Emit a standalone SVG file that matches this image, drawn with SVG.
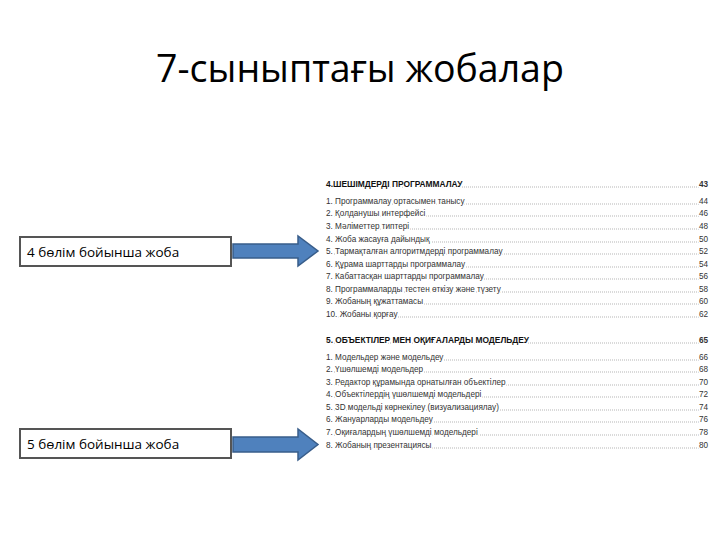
<svg xmlns="http://www.w3.org/2000/svg" width="720" height="540" viewBox="0 0 720 540">
<style>
.t{font-family:"Open Sans","Liberation Sans",sans-serif;fill:#000}
.toc,.h,.n{font-family:"Liberation Sans",sans-serif;font-size:8.2px;fill:#333;stroke:#fff;stroke-width:3;paint-order:stroke;stroke-linejoin:round}
.h{font-size:8.4px;font-weight:bold;fill:#111}
.n{text-anchor:end}
.d{stroke:#666;stroke-width:0.7;stroke-dasharray:0.7 1.3}
.box{fill:#fff;stroke:#555;stroke-width:2}
.arr{fill:#4f81bd;stroke:#385d8a;stroke-width:1.5}
</style>
<rect width="720" height="540" fill="#fff"/>
<text class="t" x="360" y="82" font-size="37.5" text-anchor="middle">7-сыныптағы жобалар</text>
<g id="box4"><rect class="box" x="20" y="237" width="211" height="29"/><text class="t" x="27" y="257" font-size="13.5">4 бөлім бойынша жоба</text></g>
<g id="box5"><rect class="box" x="20" y="429" width="211" height="29"/><text class="t" x="27" y="449" font-size="13.5">5 бөлім бойынша жоба</text></g>
<g id="connectors">
<path class="arr" d="M233,244 H298 V236 L318,251 L298,266 V258 H233 Z"/>
<path class="arr" d="M233,437 H298 V429 L318,444.5 L298,460 V452 H233 Z"/>
</g>
<g id="toc">
<g class="d">
<line x1="330" y1="187" x2="700" y2="187"/><line x1="330" y1="204" x2="700" y2="204"/><line x1="330" y1="216" x2="700" y2="216"/><line x1="330" y1="229" x2="700" y2="229"/><line x1="330" y1="242" x2="700" y2="242"/><line x1="330" y1="254" x2="700" y2="254"/><line x1="330" y1="267" x2="700" y2="267"/><line x1="330" y1="279" x2="700" y2="279"/><line x1="330" y1="292" x2="700" y2="292"/><line x1="330" y1="304" x2="700" y2="304"/><line x1="330" y1="317" x2="700" y2="317"/>
<line x1="330" y1="343" x2="700" y2="343"/><line x1="330" y1="360" x2="700" y2="360"/><line x1="330" y1="372" x2="700" y2="372"/><line x1="330" y1="385" x2="700" y2="385"/><line x1="330" y1="397" x2="700" y2="397"/><line x1="330" y1="410" x2="700" y2="410"/><line x1="330" y1="422" x2="700" y2="422"/><line x1="330" y1="435" x2="700" y2="435"/><line x1="330" y1="448" x2="700" y2="448"/>
</g>
<text class="h" x="326" y="187">4.ШЕШІМДЕРДІ ПРОГРАММАЛАУ</text><text class="n" x="708" y="187" font-weight="bold">43</text>
<text class="toc" x="326" y="204">1. Программалау ортасымен танысу</text><text class="n" x="708" y="204">44</text>
<text class="toc" x="326" y="216">2. Қолданушы интерфейсі</text><text class="n" x="708" y="216">46</text>
<text class="toc" x="326" y="229">3. Мәліметтер типтері</text><text class="n" x="708" y="229">48</text>
<text class="toc" x="326" y="242">4. Жоба жасауға дайындық</text><text class="n" x="708" y="242">50</text>
<text class="toc" x="326" y="254">5. Тармақталған алгоритмдерді программалау</text><text class="n" x="708" y="254">52</text>
<text class="toc" x="326" y="267">6. Құрама шарттарды программалау</text><text class="n" x="708" y="267">54</text>
<text class="toc" x="326" y="279">7. Кабаттасқан шарттарды программалау</text><text class="n" x="708" y="279">56</text>
<text class="toc" x="326" y="292">8. Программаларды тестен өткізу және түзету</text><text class="n" x="708" y="292">58</text>
<text class="toc" x="326" y="304">9. Жобаның құжаттамасы</text><text class="n" x="708" y="304">60</text>
<text class="toc" x="326" y="317">10. Жобаны қорғау</text><text class="n" x="708" y="317">62</text>
<text class="h" x="326" y="343">5. ОБЪЕКТІЛЕР МЕН ОҚИҒАЛАРДЫ МОДЕЛЬДЕУ</text><text class="n" x="708" y="343" font-weight="bold">65</text>
<text class="toc" x="326" y="360">1. Модельдер және модельдеу</text><text class="n" x="708" y="360">66</text>
<text class="toc" x="326" y="372">2. Үшөлшемді модельдер</text><text class="n" x="708" y="372">68</text>
<text class="toc" x="326" y="385">3. Редактор құрамында орнатылған объектілер</text><text class="n" x="708" y="385">70</text>
<text class="toc" x="326" y="397">4. Объектілердің үшөлшемді модельдері</text><text class="n" x="708" y="397">72</text>
<text class="toc" x="326" y="410">5. 3D модельді көрнекілеу (визуализациялау)</text><text class="n" x="708" y="410">74</text>
<text class="toc" x="326" y="422">6. Жануарларды модельдеу</text><text class="n" x="708" y="422">76</text>
<text class="toc" x="326" y="435">7. Оқиғалардың үшөлшемді модельдері</text><text class="n" x="708" y="435">78</text>
<text class="toc" x="326" y="448">8. Жобаның презентациясы</text><text class="n" x="708" y="448">80</text>
</g>
</svg>
